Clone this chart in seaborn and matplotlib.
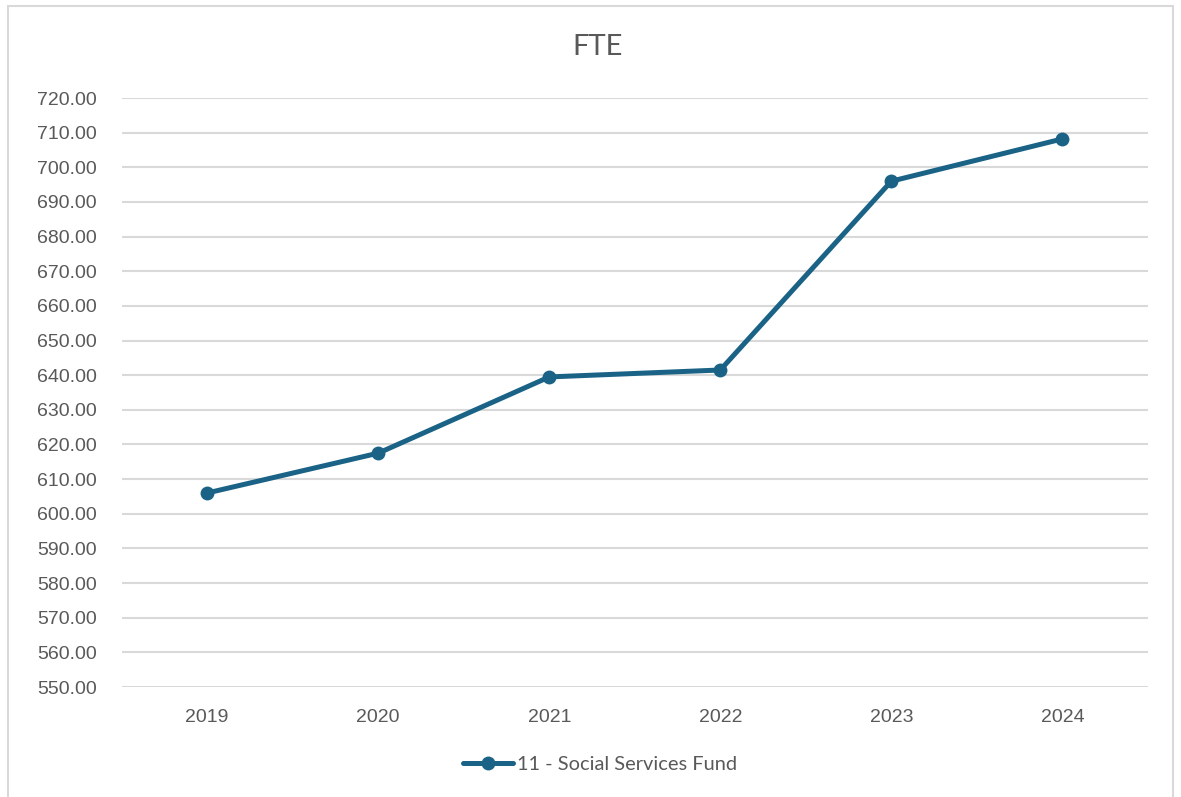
import numpy as np
import pandas as pd
import matplotlib
matplotlib.use("Agg")
import matplotlib.pyplot as plt
import matplotlib.patches as mpatches
import seaborn as sns

years = ["2019", "2020", "2021", "2022", "2023", "2024"]
fte = [606.0, 617.5, 639.5, 641.5, 696.0, 708.2]
series_name = "11 - Social Services Fund"
yticks = np.arange(550, 721, 10)

df = pd.DataFrame({"year": years, "FTE": fte, "fund": series_name})

sns.set_style("white")
plt.rcParams["font.family"] = ["Liberation Sans", "DejaVu Sans"]

line_col = "#1b6386"
grey = "#595959"

fig = plt.figure(figsize=(11.81, 7.97), dpi=100)
ax = fig.add_axes([0.103, 0.138, 0.869, 0.739])

sns.lineplot(data=df, x="year", y="FTE", hue="fund", palette=[line_col],
             marker="o", markersize=10, markeredgewidth=0, linewidth=3.6,
             sort=False, ax=ax, legend=True)

ax.set_ylim(550, 720)
ax.set_xlim(-0.5, len(years) - 0.5)
ax.set_yticks(yticks)
ax.set_yticklabels(["{:.2f}".format(v) for v in yticks])
ax.yaxis.grid(True, color="#d9d9d9", linewidth=1.5)
ax.xaxis.grid(False)
ax.set_axisbelow(True)
for s in ax.spines.values():
    s.set_visible(False)
ax.tick_params(axis="both", length=0, labelsize=14, labelcolor=grey)
ax.tick_params(axis="y", pad=18)
ax.tick_params(axis="x", pad=16)
ax.set_xlabel("")
ax.set_ylabel("")

ax.get_legend().remove()
handles, labels = ax.get_legend_handles_labels()
fig.legend(handles, labels, loc="center", bbox_to_anchor=(0.508, 1 - 764 / 797),
           frameon=False, labelcolor=grey, handlelength=2.5,
           handletextpad=0.2, prop={"family": ["Lato", "DejaVu Sans"], "size": 14.4})

fig.text(0.506, 1 - 47 / 797, "FTE", ha="center", va="center", fontsize=21,
         color=grey, family=["Lato", "DejaVu Sans"])

# outer chart border
fig.patches.append(mpatches.Rectangle((8 / 1181, -0.01), 1165 / 1181, 1 - 6 / 797 + 0.01,
                                      transform=fig.transFigure, fill=False,
                                      edgecolor="#d9d9d9", linewidth=1.5))

fig.savefig("out.png", dpi=100)
